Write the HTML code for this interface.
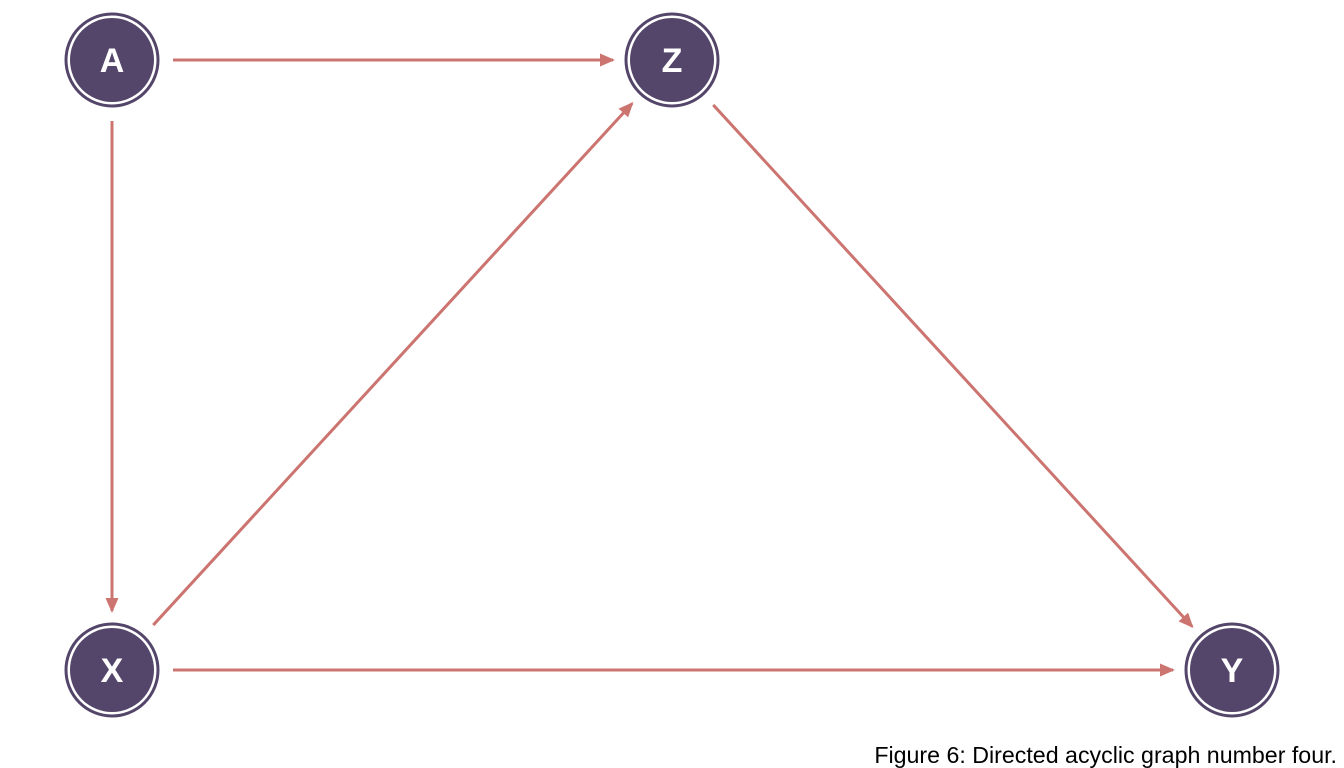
<!DOCTYPE html>
<html><head><meta charset="utf-8"><style>
html,body{margin:0;padding:0;background:#fff;width:1344px;height:768px;overflow:hidden}
svg{display:block}
</style></head><body>
<svg id="dag" width="1344" height="768" xmlns="http://www.w3.org/2000/svg">
<defs><marker id="arr" markerWidth="15" markerHeight="13" refX="13" refY="6.5" orient="auto" markerUnits="userSpaceOnUse" viewBox="0 0 15 13"><path d="M0,0 L15,6.5 L0,13 Z" fill="#cc7470"/></marker></defs>
<g id="edges"></g><g id="nodes"></g>
<text x="1337" y="763" text-anchor="end" font-family="'Liberation Sans', sans-serif" font-size="23.2" fill="#000">Figure 6: Directed acyclic graph number four.</text>
</svg>
<script>
const nodeNames = ["A","Z","X","Y"];
const nodeX = [0,1,0,2];
const nodeY = [1,1,0,0];
const edgeFrom = ["A","A","X","Z","X"];
const edgeTo = ["Z","X","Z","Y","Y"];
const NS="http://www.w3.org/2000/svg";
const sx=v=>112+560*v, sy=v=>670-610*v;
const eg=document.getElementById('edges'), ng=document.getElementById('nodes');
const idx=n=>nodeNames.indexOf(n);
for(let i=0;i<edgeFrom.length;i++){
  const a=idx(edgeFrom[i]), b=idx(edgeTo[i]);
  const x1=sx(nodeX[a]),y1=sy(nodeY[a]),x2=sx(nodeX[b]),y2=sy(nodeY[b]);
  const d=Math.hypot(x2-x1,y2-y1),ux=(x2-x1)/d,uy=(y2-y1)/d;
  const l=document.createElementNS(NS,'line');
  
  
  l.setAttribute('x1',x1+ux*61);l.setAttribute('y1',y1+uy*61);
  l.setAttribute('x2',x2-ux*59);l.setAttribute('y2',y2-uy*59);
  l.setAttribute('stroke','#cc7470');l.setAttribute('stroke-width','3');
  l.setAttribute('marker-end','url(#arr)');
  eg.appendChild(l);
}
for(let i=0;i<nodeNames.length;i++){
  const g=document.createElementNS(NS,'g');
  
  
  const cx=sx(nodeX[i]),cy=sy(nodeY[i]);
  g.innerHTML=`<circle cx="${cx}" cy="${cy}" r="46" fill="#fff" stroke="#54466a" stroke-width="3"/><circle cx="${cx}" cy="${cy}" r="42" fill="#54466a"/><text x="${cx}" y="${cy+12}" text-anchor="middle" font-family="'Liberation Sans', sans-serif" font-weight="bold" font-size="34" fill="#fff">${nodeNames[i]}</text>`;
  ng.appendChild(g);
}
</script>
</body></html>
